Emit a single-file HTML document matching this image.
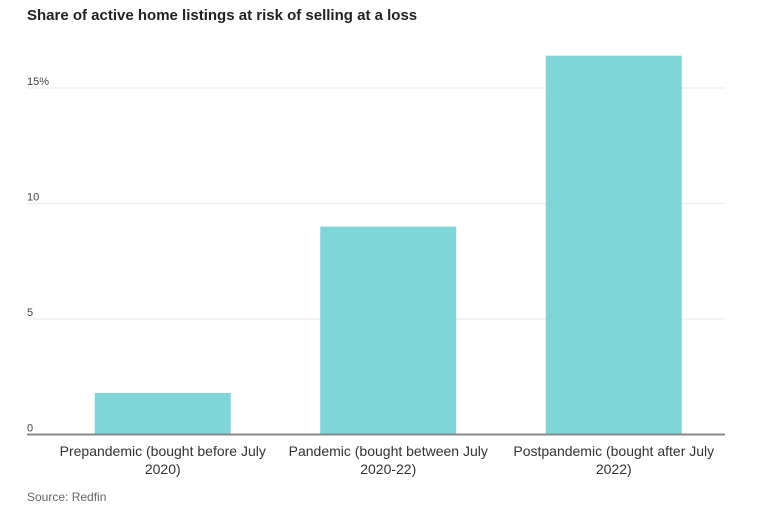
<!DOCTYPE html>
<html><head><meta charset="utf-8"><style>
body{margin:0;background:#fff;font-family:"Liberation Sans",sans-serif;}
svg{display:block}
</style></head><body>
<svg width="758" height="510" xmlns="http://www.w3.org/2000/svg">
<text x="27" y="20" font-size="15" font-weight="bold" fill="#222">Share of active home listings at risk of selling at a loss</text>
<g id="grid"></g>
<g id="bars"></g>
<g id="xlabels"></g>
<text x="27" y="501" font-size="12" fill="#666">Source: Redfin</text>
</svg>
<script>
const categories = [["Prepandemic (bought before July","2020)"],["Pandemic (bought between July","2020-22)"],["Postpandemic (bought after July","2022)"]];
const values = [1.8, 9.0, 16.4];
const ticks = [0, 5, 10, 15];
const tickLabels = ["0", "5", "10", "15%"];
const NS = "http://www.w3.org/2000/svg";
const y0 = 434.5, pxPer = 23.1;
function y(v){ return y0 - v*pxPer; }
const bandStart = 50, bandW = 225.5, barW = 136;
function xc(i){ return bandStart + bandW*i + bandW/2; }
const grid = document.getElementById('grid');
ticks.forEach((t,i)=>{
  if(t!==0){
    const l=document.createElementNS(NS,'line');
    l.setAttribute('x1',27);l.setAttribute('x2',725);
    l.setAttribute('y1',y(t));l.setAttribute('y2',y(t));
    l.setAttribute('stroke','#e8e8e8');l.setAttribute('stroke-width',1);
    
    
    grid.appendChild(l);
  }
  const tx=document.createElementNS(NS,'text');
  tx.setAttribute('x',27);tx.setAttribute('y',y(t)-3);
  tx.setAttribute('font-size',11);tx.setAttribute('fill','#444');
  tx.textContent=tickLabels[i];
  
  
  grid.appendChild(tx);
});
const bars=document.getElementById('bars');
values.forEach((v,i)=>{
  const r=document.createElementNS(NS,'rect');
  r.setAttribute('x',xc(i)-barW/2);r.setAttribute('width',barW);
  r.setAttribute('y',y(v));r.setAttribute('height',y0-y(v));
  r.setAttribute('fill','#80d5d8');
  
  
  bars.appendChild(r);
});
const base=document.createElementNS(NS,'line');
base.setAttribute('x1',27);base.setAttribute('x2',725);
base.setAttribute('y1',y0);base.setAttribute('y2',y0);
base.setAttribute('stroke','#888');base.setAttribute('stroke-width',2);


bars.appendChild(base);
const xl=document.getElementById('xlabels');
categories.forEach((c,i)=>{
  c.forEach((line,j)=>{
    const t=document.createElementNS(NS,'text');
    t.setAttribute('x',xc(i));t.setAttribute('y',456+j*18);
    t.setAttribute('text-anchor','middle');t.setAttribute('font-size',14);t.setAttribute('fill','#333');
    t.textContent=line;
    
    
    xl.appendChild(t);
  });
});
</script>
</body></html>
